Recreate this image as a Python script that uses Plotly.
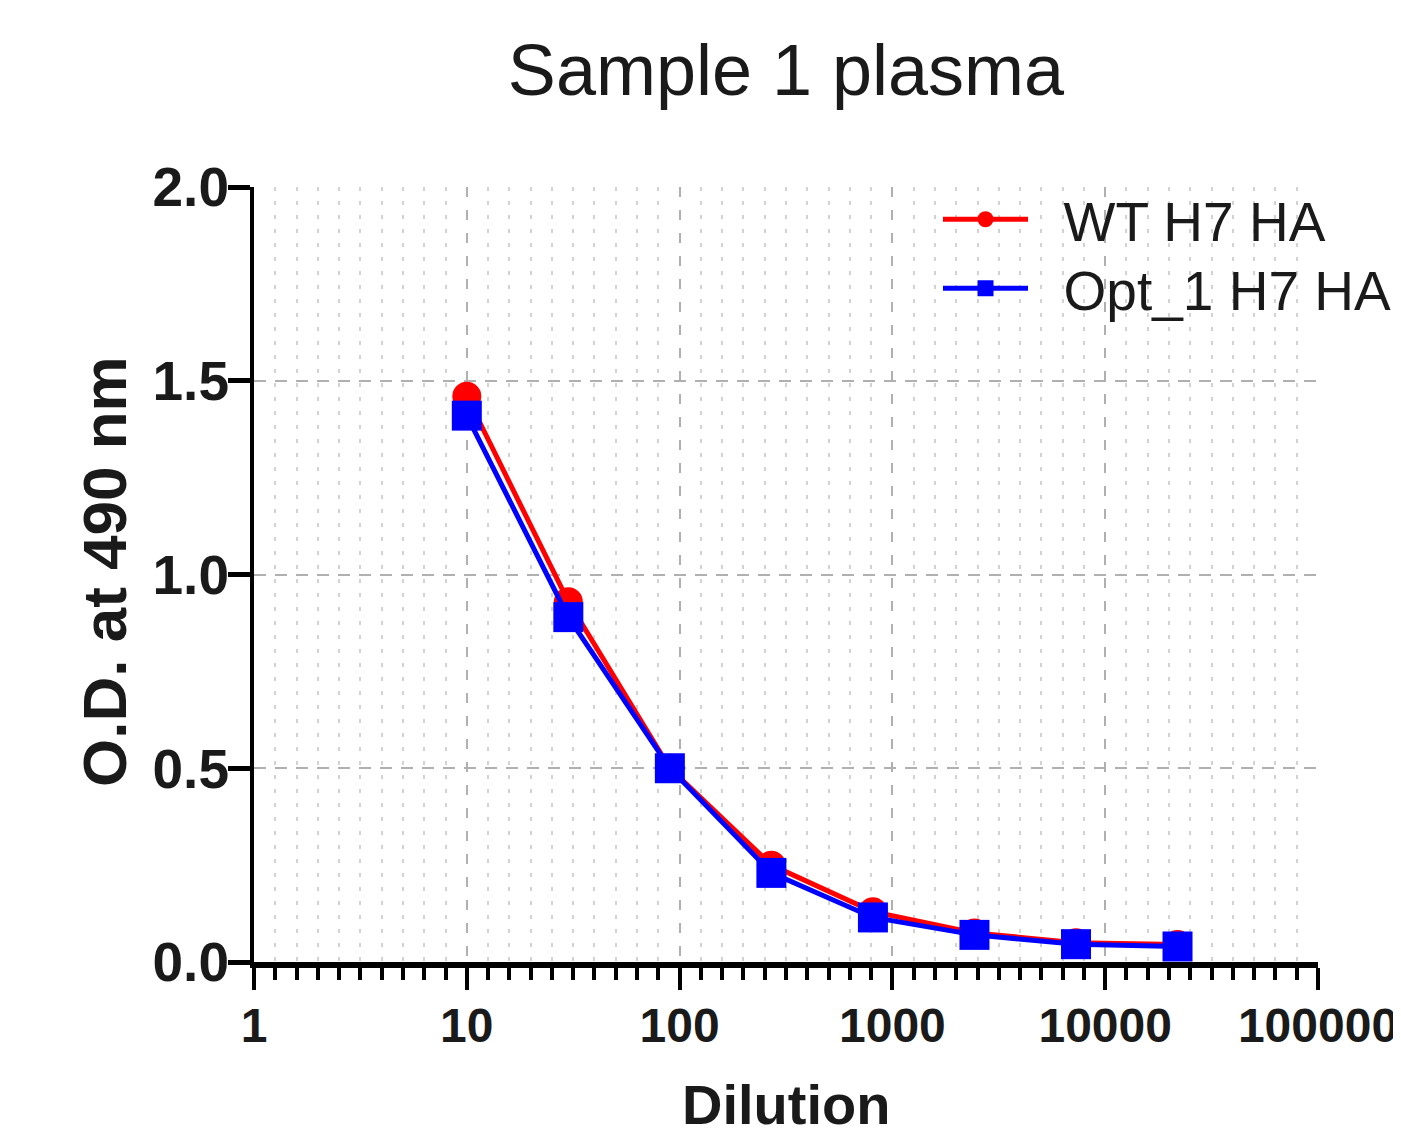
import plotly.graph_objects as go

# ---- data ----
dilution = [10, 30, 90, 270, 810, 2430, 7290, 21870]
wt_od = [1.46, 0.93, 0.50, 0.25, 0.13, 0.075, 0.05, 0.045]
opt_od = [1.41, 0.89, 0.50, 0.23, 0.115, 0.07, 0.046, 0.04]
series_names = ["WT H7 HA", "Opt_1 H7 HA"]
x_tick_vals = [1, 10, 100, 1000, 10000, 100000]
x_tick_text = ["1", "10", "100", "1000", "10000", "100000"]
y_tick_vals = [0.0, 0.5, 1.0, 1.5, 2.0]
y_tick_text = ["0.0", "0.5", "1.0", "1.5", "2.0"]

FONT = "Liberation Sans, Arial, sans-serif"
OFF = 8  # page body margin
W, H = 1401 - OFF, 1136 - OFF
PL, PT = 254 - OFF, 187 - OFF
PR = W - (1318 - OFF)
PB = H - (962 - OFF)
PW = W - PL - PR
PH = H - PT - PB

def px_x(page_x):
    return (page_x - OFF - PL) / PW

def px_y(page_y):
    return 1 - (page_y - OFF - PT) / PH

# minor positions: 10 even steps per decade in log space
minor_x = [10 ** (k / 10) for k in range(0, 51) if k % 10 != 0]

NB = "\u00a0\u00a0"

fig = go.Figure()
fig.add_trace(go.Scatter(
    x=dilution, y=wt_od, name=NB + series_names[0], mode="lines+markers",
    line=dict(color="#ff0000", width=5),
    marker=dict(symbol="circle", size=29, color="#ff0000"),
    cliponaxis=False, legend="legend",
))
fig.add_trace(go.Scatter(
    x=dilution, y=opt_od, name=NB + series_names[1], mode="lines+markers",
    line=dict(color="#0000ff", width=5),
    marker=dict(symbol="square", size=30, color="#0000ff"),
    cliponaxis=False, legend="legend2",
))

leg_common = dict(xref="paper", yref="paper", xanchor="left", yanchor="top",
                  bgcolor="rgba(0,0,0,0)",
                  font=dict(size=55, family=FONT, color="#1a1a1a"),
                  itemwidth=85)

fig.update_layout(
    width=W, height=H,
    margin=dict(l=PL, r=PR, t=PT, b=PB, autoexpand=False),
    paper_bgcolor="white", plot_bgcolor="white",
    font=dict(family=FONT, color="#1a1a1a"),
    title=dict(text="Sample 1 plasma", x=0.5, xref="paper", y=1 - (70 - OFF) / H,
               yanchor="middle", xanchor="center",
               font=dict(size=72, family=FONT, color="#1a1a1a")),
    showlegend=True,
    legend=dict(x=px_x(938), y=px_y(177), **leg_common),
    legend2=dict(x=px_x(938), y=px_y(246), **leg_common),
    annotations=[
        dict(text="<b>O.D. at 490 nm</b>", xref="paper", yref="paper",
             x=px_x(104), y=px_y(572), textangle=-90, showarrow=False,
             xanchor="center", yanchor="middle",
             font=dict(size=62, family=FONT, color="#1a1a1a")),
        dict(text="<b>Dilution</b>", xref="paper", yref="paper",
             x=0.5, y=px_y(1104), showarrow=False,
             xanchor="center", yanchor="middle",
             font=dict(size=56, family=FONT, color="#1a1a1a")),
    ],
)

fig.update_xaxes(
    type="log", range=[0, 5],
    tickmode="array", tickvals=x_tick_vals,
    ticktext=[f"<b>{t}</b>" for t in x_tick_text], tickangle=0,
    ticklabeloverflow="allow", ticklabelstandoff=-6,
    ticks="outside", ticklen=22, tickwidth=4, tickcolor="black",
    tickfont=dict(size=48, family=FONT, color="#1a1a1a"),
    showline=True, linecolor="black", linewidth=6,
    showgrid=True, gridcolor="#b0b0b0", gridwidth=2, griddash="10px,13px",
    zeroline=False, layer="below traces", automargin=False,
    minor=dict(tickmode="array", tickvals=minor_x, ticks="outside",
               ticklen=12, tickwidth=4, tickcolor="black",
               showgrid=True, gridcolor="#d2d2d2", gridwidth=2,
               griddash="4px,10px"),
)
fig.update_yaxes(
    range=[0, 2.0],
    tickmode="array", tickvals=y_tick_vals,
    ticktext=[f"<b>{t}</b>" for t in y_tick_text],
    ticklabelstandoff=-12,
    ticks="outside", ticklen=22, tickwidth=5, tickcolor="black",
    tickfont=dict(size=55, family=FONT, color="#1a1a1a"),
    showline=True, linecolor="black", linewidth=4,
    showgrid=True, gridcolor="#b0b0b0", gridwidth=2, griddash="12px,9px",
    zeroline=False, layer="below traces", automargin=False,
)

fig.write_html("out.html")
